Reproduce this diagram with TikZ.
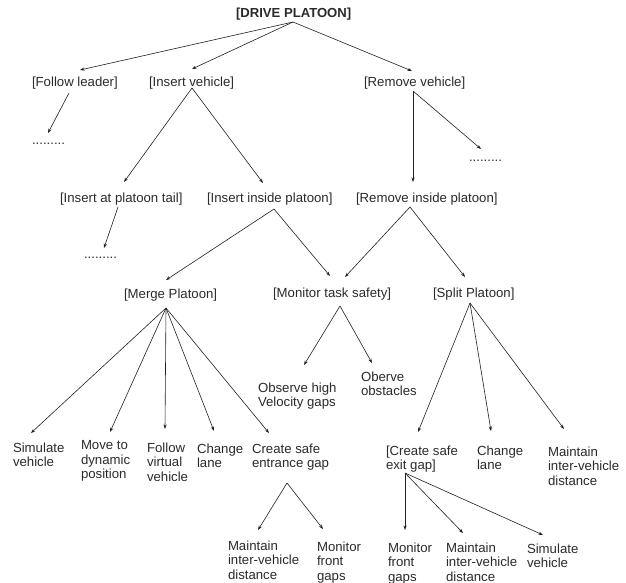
\documentclass[tikz,border=0pt]{standalone}
\usepackage{fontspec}
\setmainfont{Liberation Sans}
\usetikzlibrary{arrows.meta}
\definecolor{txtgray}{HTML}{2A2A2A}
\definecolor{linegray}{HTML}{202020}
\begin{document}
\begin{tikzpicture}[x=1pt,y=-1pt,
  lbl/.style={inner sep=0pt, outer sep=0pt, anchor=north west, align=left,
    font=\fontsize{13.2}{14.5}\selectfont, text=txtgray},
  headlbl/.style={lbl, font=\bfseries\fontsize{13.1}{14.5}\selectfont},
  more/.style={inner sep=0pt, outer sep=0pt, anchor=base west,
    font=\fontsize{13.2}{14.5}\selectfont, text=txtgray},
  link/.style={draw=linegray, line width=0.6pt,
    -{Stealth[length=4.5pt,width=3.2pt]}}]
\useasboundingbox (0,0) rectangle (626,583);

% ---- task tree labels ----
\node[headlbl] (root) at (236,8.5) {[DRIVE PLATOON]};

\node[lbl] (fl) at (32,76.5)  {[Follow leader]};
\node[lbl] (iv) at (149,76.5) {[Insert vehicle]};
\node[lbl] (rv) at (364,76.5) {[Remove vehicle]};

\node[more] (d1) at (32,144) {.........};
\node[more] (d2) at (469,161) {.........};
\node[more] (d3) at (84,258) {.........};

\node[lbl] (ita) at (60,192.5)  {[Insert at platoon tail]};
\node[lbl] (iip) at (207,192.5) {[Insert inside platoon]};
\node[lbl] (rip) at (356,192.5) {[Remove inside platoon]};

\node[lbl] (mp)  at (124,288.5) {[Merge Platoon]};
\node[lbl] (mts) at (273,287.5) {[Monitor task safety]};
\node[lbl] (sp)  at (433,287.5) {[Split Platoon]};

\node[lbl] (ohv) at (258,382.5) {Observe high\\Velocity gaps};
\node[lbl] (oo)  at (361,371.5) {Oberve\\obstacles};

\node[lbl] (sv1)  at (13,442.5)  {Simulate\\vehicle};
\node[lbl] (mdp)  at (81,440.5)  {Move to\\dynamic\\position};
\node[lbl] (fvv)  at (147,442.5) {Follow\\virtual\\vehicle};
\node[lbl] (cl1)  at (197,443.5) {Change\\lane};
\node[lbl] (cse)  at (252,443.5) {Create safe\\entrance gap};

\node[lbl] (cseg)  at (386,445.5) {[Create safe\\exit gap]};
\node[lbl] (cl2)   at (477,445.5) {Change\\lane};
\node[lbl] (mivd1) at (548,446.5) {Maintain\\inter-vehicle\\distance};

\node[lbl] (mivd2) at (228,540.5) {Maintain\\inter-vehicle\\distance};
\node[lbl] (mfg1)  at (317,541.5) {Monitor\\front\\gaps};
\node[lbl] (mfg2)  at (388,542.5) {Monitor\\front\\gaps};
\node[lbl] (mivd3) at (446,542.5) {Maintain\\inter-vehicle\\distance};
\node[lbl] (sv2)   at (527,543.5) {Simulate\\vehicle};

% ---- decomposition arrows ----
\draw[link] ([shift={(57,13.5)}]root.north west) -- ([shift={(48,-6.5)}]fl.north west);
\draw[link] ([shift={(57,13.5)}]root.north west) -- ([shift={(43,-7.5)}]iv.north west);
\draw[link] ([shift={(57,13.5)}]root.north west) -- ([shift={(48,-5.5)}]rv.north west);

\draw[link] ([shift={(37,16.5)}]fl.north west) -- ([shift={(16,-11)}]d1.base west);

\draw[link] ([shift={(43,11.5)}]iv.north west) -- ([shift={(64,-10.5)}]ita.north west);
\draw[link] ([shift={(43,11.5)}]iv.north west) -- ([shift={(56,-9.5)}]iip.north west);

\draw[link] ([shift={(49,14.5)}]rv.north west) -- ([shift={(57,-10.5)}]rip.north west);
\draw[link] ([shift={(49,14.5)}]rv.north west) -- ([shift={(12,-12)}]d2.base west);

\draw[link] ([shift={(58,14.5)}]ita.north west) -- ([shift={(20,-10)}]d3.base west);

\draw[link] ([shift={(67,16.5)}]iip.north west) -- ([shift={(42,-8.5)}]mp.north west);
\draw[link] ([shift={(67,16.5)}]iip.north west) -- ([shift={(57,-11.5)}]mts.north west);

\draw[link] ([shift={(54,14.5)}]rip.north west) -- ([shift={(72,-10.5)}]mts.north west);
\draw[link] ([shift={(54,14.5)}]rip.north west) -- ([shift={(32,-10.5)}]sp.north west);

\draw[link] ([shift={(42,19.5)}]mp.north west) -- ([shift={(18,-9.5)}]sv1.north west);
\draw[link] ([shift={(42,19.5)}]mp.north west) -- ([shift={(29,-8.5)}]mdp.north west);
\draw[link] ([shift={(42,19.5)}]mp.north west) -- ([shift={(18,-13.5)}]fvv.north west);
\draw[link] ([shift={(42,19.5)}]mp.north west) -- ([shift={(17,-12.5)}]cl1.north west);
\draw[link] ([shift={(42,19.5)}]mp.north west) -- ([shift={(17,-10.5)}]cse.north west);

\draw[link] ([shift={(67,18.5)}]mts.north west) -- ([shift={(46,-17.5)}]ohv.north west);
\draw[link] ([shift={(67,18.5)}]mts.north west) -- ([shift={(11,-8.5)}]oo.north west);

\draw[link] ([shift={(37,15.5)}]sp.north west) -- ([shift={(32,-13.5)}]cseg.north west);
\draw[link] ([shift={(37,15.5)}]sp.north west) -- ([shift={(14,-14.5)}]cl2.north west);
\draw[link] ([shift={(37,15.5)}]sp.north west) -- ([shift={(16,-17.5)}]mivd1.north west);

\draw[link] ([shift={(35,39.5)}]cse.north west) -- ([shift={(30,-10.5)}]mivd2.north west);
\draw[link] ([shift={(35,39.5)}]cse.north west) -- ([shift={(6,-12.5)}]mfg1.north west);

\draw[link] ([shift={(19,27.5)}]cseg.north west) -- ([shift={(17,-12.5)}]mfg2.north west);
\draw[link] ([shift={(19,27.5)}]cseg.north west) -- ([shift={(17,-9.5)}]mivd3.north west);
\draw[link] ([shift={(19,27.5)}]cseg.north west) -- ([shift={(16,-8.5)}]sv2.north west);
\end{tikzpicture}
\end{document}
